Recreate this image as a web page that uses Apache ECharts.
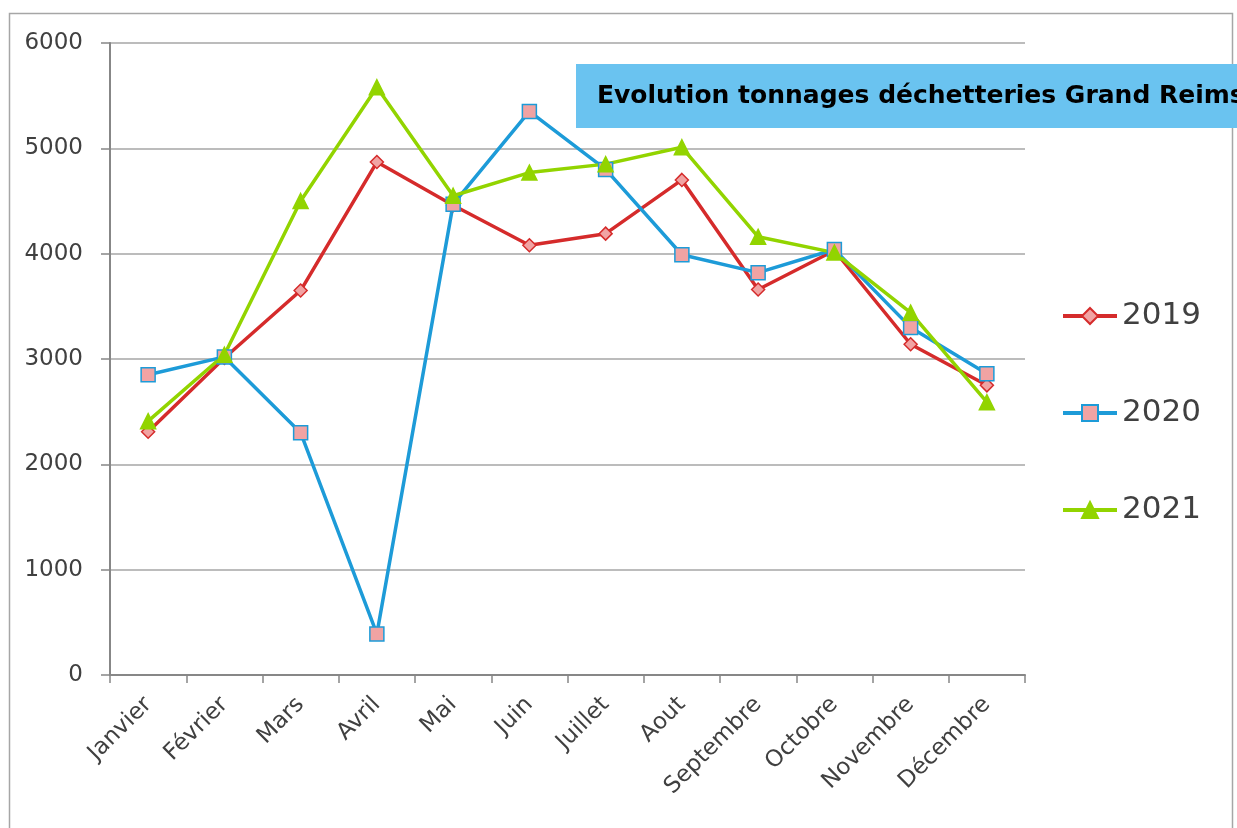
<!DOCTYPE html>
<html>
<head>
<meta charset="utf-8">
<script src="https://cdn.jsdelivr.net/npm/echarts@6/dist/echarts.min.js"></script>
<style>
  html, body { margin: 0; padding: 0; background: #fff; }
  #chart { width: 1237px; height: 828px; }
</style>
</head>
<body>
<div id="chart"></div>
<script>
// == Data ====================================================================
const months = ['Janvier', 'Février', 'Mars', 'Avril', 'Mai', 'Juin',
  'Juillet', 'Aout', 'Septembre', 'Octobre', 'Novembre', 'Décembre']
const tonnes2019 = [2310, 3010, 3650, 4870, 4460, 4080, 4190, 4700, 3660, 4030, 3140, 2750]
const tonnes2020 = [2850, 3020, 2300, 390, 4470, 5350, 4800, 3990, 3820, 4040, 3300, 2860]
const tonnes2021 = [2410, 3040, 4500, 5580, 4550, 4770, 4850, 5010, 4160, 4010, 3440, 2590]
const titleText = 'Evolution tonnages déchetteries Grand Reims'

const font = '"DejaVu Sans", sans-serif'
const textColor = '#404040'
const axisGray = '#878787'

const makeSeries = (name, data, color, symbol, size, fill) => ({
  name,
  type: 'line',
  data,
  symbol,
  symbolSize: size,
  showAllSymbol: true,
  lineStyle: {color, width: 3.5},
  itemStyle: {color: fill, borderColor: color, borderWidth: 1.5},
  emphasis: {disabled: true},
  animation: false
})

const option = {
  backgroundColor: '#fff',
  animation: false,
  title: {
    text: titleText,
    left: 576,
    top: 64,
    backgroundColor: '#6ac3f0',
    padding: [19, 200, 19, 21],
    textStyle: {fontFamily: font, fontWeight: 'bold', fontSize: 25, color: '#000', lineHeight: 26}
  },
  graphic: [{
    type: 'rect',
    shape: {x: 9.5, y: 13.5, width: 1223, height: 900},
    style: {fill: 'none', stroke: '#a6a6a6', lineWidth: 1.5},
    silent: true,
    z: -1
  }],
  legend: {
    orient: 'vertical',
    left: 1061,
    top: 296,
    padding: 0,
    itemWidth: 54,
    itemHeight: 20,
    itemGap: 57,
    lineStyle: {width: 4},
    textStyle: {fontFamily: font, fontSize: 31, color: textColor, lineHeight: 40},
    data: ['2019', '2020', '2021']
  },
  grid: {left: 110, right: 212, top: 43, bottom: 153, containLabel: false},
  xAxis: {
    type: 'category',
    data: months,
    boundaryGap: true,
    axisLine: {lineStyle: {color: axisGray, width: 2}},
    axisTick: {show: true, interval: 0, length: 8, lineStyle: {color: axisGray, width: 1.5}},
    axisLabel: {rotate: 45, interval: 0, margin: 26, fontFamily: font, fontSize: 23, color: textColor}
  },
  yAxis: {
    type: 'value',
    min: 0,
    max: 6000,
    interval: 1000,
    axisLine: {show: true, lineStyle: {color: axisGray, width: 2}},
    axisTick: {show: true, length: 9, lineStyle: {color: axisGray, width: 1.5}},
    axisLabel: {margin: 27, fontFamily: font, fontSize: 23, color: textColor, formatter: v => String(v)},
    splitLine: {lineStyle: {color: '#a6a6a6', width: 1.5}}
  },
  series: [
    makeSeries('2019', tonnes2019, '#d52b2b', 'diamond', 13, '#f1a3a3'),
    makeSeries('2020', tonnes2020, '#1d9bd8', 'rect', 14, '#f1a3a3'),
    makeSeries('2021', tonnes2021, '#92d400', 'triangle', 15, '#92d400')
  ]
}

echarts.init(document.getElementById('chart'), null, {renderer: 'canvas'}).setOption(option)
</script>
</body>
</html>
